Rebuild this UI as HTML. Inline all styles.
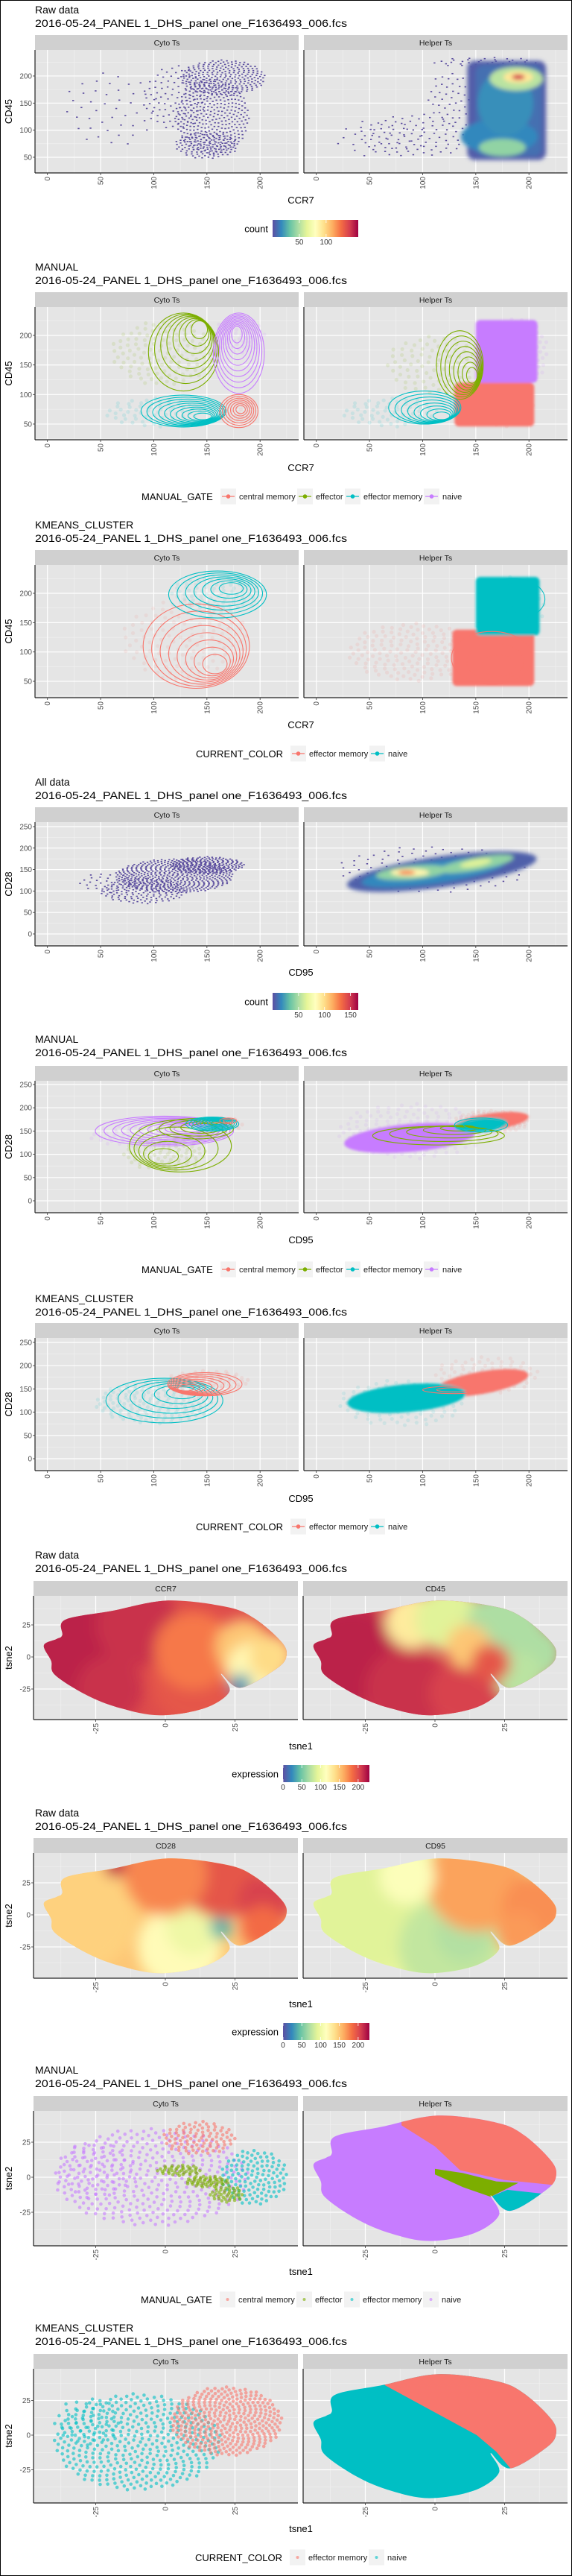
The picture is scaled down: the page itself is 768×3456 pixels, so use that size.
<!DOCTYPE html>
<html><head><meta charset="utf-8">
<style>
html,body{margin:0;padding:0;background:#fff;}
svg{display:block;font-family:"Liberation Sans",sans-serif;}
</style></head>
<body>
<svg id="chart" width="768" height="3456" viewBox="0 0 768 3456" xmlns="http://www.w3.org/2000/svg">
<defs>
<filter id="b1" x="-20%" y="-20%" width="140%" height="140%"><feGaussianBlur stdDeviation="1.5"/></filter>
<filter id="b3" x="-30%" y="-30%" width="160%" height="160%"><feGaussianBlur stdDeviation="3"/></filter>
<filter id="b8" x="-50%" y="-50%" width="200%" height="200%"><feGaussianBlur stdDeviation="9"/></filter>
</defs>
<rect x="0.5" y="0.5" width="767" height="3455" fill="#fff" stroke="#000" stroke-width="1"/>
</svg>
<script>
// ---------- DATA ----------
const COLS = {cm:'#F8766D', ef:'#7CAE00', em:'#00BFC4', nv:'#C77CFF'};
const flowTicksX = [0,50,100,150,200];
const ccr7TicksY = [50,100,150,200];
const cd28TicksY = [0,50,100,150,200,250];
const tsneTicks = [-25,0,25];
const countTicks1 = [50,100];
const countTicks4 = [50,100,150];
const exprTicks = [0,50,100,150,200];
const gateLabels = ['central memory','effector','effector memory','naive'];
const gateKeys = ['cm','ef','em','nv'];
const kmLabels = ['effector memory','naive'];
const kmKeys = ['cm','em'];

// Chart 1: sparse dot clusters [x,y,rx,ry,n]; dense rects [x0,y0,x1,y1,count]; dense blobs [x,y,rx,ry,rot,count]
const c1CytoDots = [[165,197,40,33,260],[155,125,35,70,330],[120,160,30,60,90],[150,72,30,25,120],[60,140,45,70,45]];
const c1HelperDots = [[95,90,55,40,90],[60,85,45,35,30],[125,160,20,50,40],[160,225,50,10,40]];
const c1HelperRects = [[142,45,216,228,4],[150,52,212,220,9]];
const c1HelperDense = [[172,88,36,32,0,16],[178,150,26,60,0,18],[175,68,22,16,0,42],[188,195,25,22,0,52],[190,198,14,11,0,92],[190,198,6,5,0,145]];

// Chart 2 MANUAL CCR7: faint points [x,y,rx,ry,n,key]; contours [key,cx,cy,rx,ry,icx,icy,levels]; fills [key,x0,y0,x1,y1]
const c2CytoFaint = [[110,170,50,55,120,'ef'],[100,70,45,25,60,'em'],[180,200,25,30,60,'nv'],[180,75,15,25,30,'cm']];
const c2CytoContours = [['ef',128,172,33,66,145,215,8],['nv',180,170,24,68,178,205,10],['em',128,72,40,27,148,62,10],['cm',180,72,18,28,182,75,7]];
const c2HelperFaint = [[110,150,45,50,80,'ef'],[70,70,45,25,60,'em'],[190,170,28,60,100,'nv'],[175,80,30,35,60,'cm']];
const c2HelperFills = [['nv',150,120,208,226],['cm',130,46,205,120]];
const c2HelperContours = [['ef',135,150,22,58,148,130,8],['em',102,78,34,28,120,62,8]];

// Chart 3 KMEANS CCR7
const c3CytoFaint = [[130,120,60,70,120,'cm'],[160,200,45,30,80,'em']];
const c3CytoContours = [['cm',140,110,50,72,160,75,8],['em',160,198,46,40,175,210,7]];
const c3HelperFaint = [[90,100,60,50,150,'cm'],[185,170,30,60,80,'em']];
const c3HelperFills = [['cm',128,42,205,138],['em',150,128,210,228]];
const c3HelperContours = [['cm',165,90,38,45,175,70,3],['em',185,190,30,35,185,195,3]];

// Chart 4 All data CD95 vs CD28
const c4CytoDots = [[120,135,55,40,500],[150,160,35,20,200],[90,100,40,30,150],[60,120,30,25,40]];
const c4HelperDots = [[110,150,90,55,120]];
const c4HelperRects = [];
const c4HelperDense = [[118,145,90,36,-8,5],[110,143,68,26,-8,16],[90,143,34,16,-5,42],[150,163,36,15,-10,42],[88,143,18,9,0,85],[85,143,8,5,0,125],[150,165,15,8,-10,62]];

// Chart 5 MANUAL CD95
const c5CytoFaint = [[110,100,40,35,80,'ef'],[90,140,50,25,60,'nv'],[160,165,25,15,40,'cm']];
const c5CytoContours = [['nv',110,150,65,32,135,155,10],['ef',125,118,48,56,105,90,5],['ef',140,155,35,22,150,160,4],['em',155,165,25,15,160,168,8],['cm',170,172,8,6,170,172,2]];
const c5HelperFaint = [[90,150,70,60,150,'nv'],[165,170,35,25,120,'cm']];
const c5HelperEllFills = [['nv',88,135,62,30,-5],['cm',165,170,35,18,-8],['em',155,163,25,15,-5]];
const c5HelperContours = [['ef',115,140,62,20,140,160,5],['em',155,163,25,15,158,165,3]];

// Chart 6 KMEANS CD95
const c6CytoFaint = [[100,120,55,45,150,'em'],[150,165,40,25,80,'cm']];
const c6CytoContours = [['em',110,125,55,48,130,145,6],['cm',148,160,35,25,128,150,9]];
const c6HelperFaint = [[80,120,60,50,100,'em'],[160,180,50,40,80,'cm']];
const c6HelperEllFills = [['cm',155,163,45,24,-10],['em',85,130,56,30,-5]];
const c6HelperContours = [['em',95,135,40,15,95,138,3],['cm',130,148,30,8,130,148,2]];

// tSNE cloud outline [tsne1,tsne2]
const tsneOutline = [[-43.6,9],[-41,-3],[-39.6,-14],[-28,-30],[-16,-40],[-2,-45.5],[14,-40],[23,-27],[20,-13],[27,-24],[40,-9],[43.5,1],[41.6,12],[32,30],[22,39],[1,44],[-19,36],[-36,29],[-37,17],[-39,14]];
// expression blobs [tsne1,tsne2,radius,expression]; base expression
const c7CCR7Base = 200;
const c7CCR7 = [[-30,5,20,218],[-10,25,15,212],[-20,-25,12,212],[10,-20,15,195],[10,5,14,180],[28,8,10,150],[32,-10,10,120],[27,-22,4,30],[38,0,8,140]];
const c7CD45Base = 205;
const c7CD45 = [[-30,0,18,218],[-10,-25,15,212],[10,-28,12,205],[-8,28,10,130],[5,30,12,90],[25,22,14,70],[36,3,10,70],[30,-15,9,75],[12,8,8,150],[20,-5,7,195]];
const c8CD28Base = 150;
const c8CD28 = [[-30,0,20,145],[5,-25,15,118],[10,-10,10,100],[20,-10,4,40],[20,30,15,195],[36,10,10,205],[35,-10,8,185],[0,32,15,175],[-18,38,4,215]];
const c8CD95Base = 95;
const c8CD95 = [[-25,0,20,90],[5,-25,18,78],[10,-15,10,72],[15,26,18,165],[36,5,12,172],[30,-15,8,168],[-10,30,10,112]];

// Chart 9 MANUAL tSNE
const c9CytoPts = [[-5,0,35,35,350,'nv'],[-25,5,15,20,50,'nv'],[12,28,13,12,90,'cm'],[32,0,12,20,120,'em'],[5,5,8,4,40,'ef'],[15,-3,8,4,50,'ef'],[22,-12,6,6,40,'ef']];
const c9HelperBase = 'nv';
const c9HelperPolys = [['cm',[[-12,50],[-12,37],[0,22],[9,5],[25,-2],[50,-7],[50,50]]],['ef',[[0,6],[10,3],[22,-3],[30,-4],[25,-9],[20,-14],[10,-7],[0,2]]],['em',[[20,-14],[26,-9],[40,-12],[45,-15],[38,-22],[25,-25]]]];
// Chart 10 KMEANS tSNE
const c10CytoPts = [[-10,-5,30,35,400,'em'],[-28,10,12,18,40,'em'],[22,10,20,25,350,'cm']];
const c10HelperBase = 'em';
const c10HelperPolys = [['cm',[[-20,50],[-18,36],[15,0],[22,-12],[28,-26],[50,-26],[50,50]]]];

// ---------- DRAWING ----------
const NS='http://www.w3.org/2000/svg';
const svg=document.getElementById('chart');
function el(tag, attrs, parent){const e=document.createElementNS(NS,tag);for(const k in attrs)e.setAttribute(k,attrs[k]);(parent||svg).appendChild(e);return e;}
function nm(e,name,inter){
  
  
  return e;}
function txt(x,y,s,attrs,parent){const t=el('text',Object.assign({x:x,y:y},attrs||{}),parent);t.textContent=s;return t;}

const SPECTRAL=['#5e4fa2','#3288bd','#66c2a5','#abdda4','#e6f598','#ffffbf','#fee08b','#fdae61','#f46d43','#d53e4f','#9e0142'];
function hex2(c){return [parseInt(c.slice(1,3),16),parseInt(c.slice(3,5),16),parseInt(c.slice(5,7),16)];}
function spec(t){t=Math.max(0,Math.min(1,t));const f=t*10,i=Math.min(9,Math.floor(f)),u=f-i;const a=hex2(SPECTRAL[i]),b=hex2(SPECTRAL[i+1]);return 'rgb('+a.map((v,k)=>Math.round(v+(b[k]-v)*u)).join(',')+')';}

let clipId=0;
function makeChart(cfg){
  const g=nm(el('g',{}),cfg.name);
  nm(txt(47,cfg.t1+5,cfg.title,{'font-size':14,fill:'#000'},g),'chart-title');
  nm(txt(47,cfg.t1+23,'2016-05-24_PANEL 1_DHS_panel one_F1636493_006.fcs',{'font-size':14,fill:'#000',textLength:419,lengthAdjust:'spacingAndGlyphs'},g),'chart-subtitle');
  const panels=[];
  for(let p=0;p<2;p++){
    const L=cfg.lefts[p],W=cfg.w,T=cfg.strip+20,B=cfg.bottom;
    const pg=nm(el('g',{},g),'panel-'+(p?'right':'left'));
    nm(el('rect',{x:L,y:cfg.strip,width:W,height:20,fill:'#d0d0d0'},pg),'facet-strip');
    nm(txt(L+W/2,cfg.strip+14,cfg.strips[p],{'font-size':10.5,fill:'#1a1a1a','text-anchor':'middle'},pg),'strip-label');
    nm(el('rect',{x:L,y:T,width:W,height:B-T,fill:'#e5e5e5'},pg),'panel-background');
    const xs=v=>L+cfg.x0+v*cfg.xk, ys=v=>cfg.yZero-v*cfg.yk;
    const xt=cfg.xticks, yt=cfg.yticks;
    const dx=xt[1]-xt[0], dy=yt[1]-yt[0];
    for(let v=xt[0]-dx/2;v<=xt[xt.length-1]+dx;v+=dx){const X=xs(v);if(X>L&&X<L+W)el('line',{x1:X,x2:X,y1:T,y2:B,stroke:'#f2f2f2','stroke-width':0.6},pg);}
    for(let v=yt[0]-dy/2;v<=yt[yt.length-1]+dy;v+=dy){const Y=ys(v);if(Y>T&&Y<B)el('line',{x1:L,x2:L+W,y1:Y,y2:Y,stroke:'#f2f2f2','stroke-width':0.6},pg);}
    xt.forEach(v=>{nm(el('line',{x1:xs(v),x2:xs(v),y1:T,y2:B,stroke:'#fff','stroke-width':1.2},pg),'x-gridline');});
    yt.forEach(v=>{nm(el('line',{x1:L,x2:L+W,y1:ys(v),y2:ys(v),stroke:'#fff','stroke-width':1.2},pg),'y-gridline');});
    const cid='clip'+(clipId++);
    const cp=el('clipPath',{id:cid},svg.querySelector('defs'));
    el('rect',{x:L,y:T,width:W,height:B-T},cp);
    const data=nm(el('g',{'clip-path':'url(#'+cid+')'},pg),'data-layer');
    panels.push({g:pg,data,xs,ys,L,T,W,B});
    nm(el('line',{x1:L,x2:L+W,y1:B,y2:B,stroke:'#222','stroke-width':1.2},pg),'x-axis-line');
    nm(el('line',{x1:L,x2:L,y1:T,y2:B,stroke:'#222','stroke-width':1.2},pg),'y-axis-line');
    xt.forEach(v=>{const X=xs(v);el('line',{x1:X,x2:X,y1:B,y2:B+3,stroke:'#333','stroke-width':0.8},pg);
      nm(txt(X+3.5,B+5,String(v),{'font-size':10,fill:'#4d4d4d','text-anchor':'end',transform:'rotate(-90 '+(X+3.5)+' '+(B+5)+')'},pg),'x-tick-label');});
    if(p===0) yt.forEach(v=>{const Y=ys(v);el('line',{x1:L-3,x2:L,y1:Y,y2:Y,stroke:'#333','stroke-width':0.8},pg);
      nm(txt(L-4,Y+3.5,String(v),{'font-size':10,fill:'#4d4d4d','text-anchor':'end'},pg),'y-tick-label');});
  }
  nm(txt(404,cfg.xlab+5,cfg.xtitle,{'font-size':13,fill:'#000','text-anchor':'middle'},g),'x-axis-title');
  const ym=(cfg.strip+20+cfg.bottom)/2;
  nm(txt(16,ym,cfg.ytitle,{'font-size':13,fill:'#000','text-anchor':'middle',transform:'rotate(-90 16 '+ym+')'},g),'y-axis-title');
  return {g,panels};
}

function sunflower(P,cl,fn){const [cx,cy,rx,ry,n]=cl;for(let i=0;i<n;i++){const r=Math.sqrt((i+0.5)/n),a=i*2.39996;fn(P.xs(cx+rx*r*Math.cos(a)),P.ys(cy+ry*r*Math.sin(a)));}}
function dots(P,clusters,color,w,h,name){const g=nm(el('g',{fill:color},P.data),name);clusters.forEach(cl=>sunflower(P,cl,(x,y)=>{el('rect',{x:x-w/2,y:y-h/2,width:w,height:h},g);}));}
function faint(P,clusters,r,op,name){const g=nm(el('g',{},P.data),name);clusters.forEach(cl=>{const c=COLS[cl[5]];sunflower(P,cl,(x,y)=>{el('circle',{cx:x,cy:y,r:r,fill:c,'fill-opacity':op},g);});});}
function dense(P,rects,blobs,maxc,name){const g=nm(el('g',{filter:'url(#b3)'},P.data),name);
  rects.forEach(r=>{const [x0,y0,x1,y1,c]=r;el('rect',{x:P.xs(x0),y:P.ys(y1),width:P.xs(x1)-P.xs(x0),height:P.ys(y0)-P.ys(y1),rx:10,fill:spec(c/maxc)},g);});
  blobs.forEach(b=>{const [x,y,rx,ry,rot,c]=b;const X=P.xs(x),Y=P.ys(y);el('ellipse',{cx:X,cy:Y,rx:rx*(P.xs(1)-P.xs(0)),ry:ry*(P.ys(0)-P.ys(1)),fill:spec(c/maxc),transform:'rotate('+rot+' '+X+' '+Y+')'},g);});}
function contours(P,list,name){const g=nm(el('g',{fill:'none','stroke-width':1.1},P.data),name);list.forEach(c=>{const [k,cx,cy,rx,ry,icx,icy,n]=c;for(let i=0;i<n;i++){const t=i/n;const X=P.xs(cx+(icx-cx)*t),Y=P.ys(cy+(icy-cy)*t);el('ellipse',{cx:X,cy:Y,rx:rx*(1-t*0.88)*(P.xs(1)-P.xs(0)),ry:ry*(1-t*0.88)*(P.ys(0)-P.ys(1)),stroke:COLS[k]},g);}});}
function rectFills(P,list,name){const g=nm(el('g',{filter:'url(#b1)'},P.data),name);list.forEach(f=>{const [k,x0,y0,x1,y1]=f;el('rect',{x:P.xs(x0),y:P.ys(y1),width:P.xs(x1)-P.xs(x0),height:P.ys(y0)-P.ys(y1),rx:6,fill:COLS[k]},g);});}
function ellFills(P,list,name){const g=nm(el('g',{filter:'url(#b1)'},P.data),name);list.forEach(f=>{const [k,x,y,rx,ry,rot]=f;const X=P.xs(x),Y=P.ys(y);el('ellipse',{cx:X,cy:Y,rx:rx*(P.xs(1)-P.xs(0)),ry:ry*(P.ys(0)-P.ys(1)),fill:COLS[k],transform:'rotate('+rot+' '+X+' '+Y+')'},g);});}
function polyStr(P,pts){return pts.map(p=>P.xs(p[0]).toFixed(1)+','+P.ys(p[1]).toFixed(1)).join(' ');}
function smoothPath(P,pts){const q=pts.map(p=>[P.xs(p[0]),P.ys(p[1])]);const n=q.length;let d='M'+q[0][0].toFixed(1)+','+q[0][1].toFixed(1);
  for(let i=0;i<n;i++){const p0=q[(i-1+n)%n],p1=q[i],p2=q[(i+1)%n],p3=q[(i+2)%n];
    const c1=[p1[0]+(p2[0]-p0[0])/6,p1[1]+(p2[1]-p0[1])/6],c2=[p2[0]-(p3[0]-p1[0])/6,p2[1]-(p3[1]-p1[1])/6];
    d+='C'+c1.map(v=>v.toFixed(1)).join(',')+' '+c2.map(v=>v.toFixed(1)).join(',')+' '+p2.map(v=>v.toFixed(1)).join(',');}
  return d+'Z';}
function tsneClip(P){const cid='clip'+(clipId++);const cp=el('clipPath',{id:cid},svg.querySelector('defs'));el('path',{d:smoothPath(P,tsneOutline)},cp);return cid;}
function exprPanel(P,base,blobs,name){const cid=tsneClip(P);const g=nm(el('g',{'clip-path':'url(#'+cid+')'},P.data),name);
  el('rect',{x:P.L,y:P.T,width:P.W,height:P.B-P.T,fill:spec(base/230)},g);
  const bg=el('g',{filter:'url(#b8)'},g);
  blobs.forEach(b=>{el('circle',{cx:P.xs(b[0]),cy:P.ys(b[1]),r:b[2]*(P.xs(1)-P.xs(0)),fill:spec(b[3]/230)},bg);});}
function catPanel(P,baseKey,polys,name){const cid=tsneClip(P);const g=nm(el('g',{'clip-path':'url(#'+cid+')'},P.data),name);
  el('rect',{x:P.L,y:P.T,width:P.W,height:P.B-P.T,fill:COLS[baseKey]},g);
  polys.forEach(pp=>{el('polygon',{points:polyStr(P,pp[1]),fill:COLS[pp[0]]},g);});}

function colorbar(yTop,title,ticks,maxv,x0,w,name){const g=nm(el('g',{},svg),name);const h=23;
  const gid='grad'+yTop;const lg=el('linearGradient',{id:gid,x1:0,x2:1,y1:0,y2:0},svg.querySelector('defs'));
  for(let i=0;i<=10;i++)el('stop',{offset:i/10,'stop-color':SPECTRAL[i]},lg);
  nm(txt(x0-6,yTop+h/2+5,title,{'font-size':13,fill:'#000','text-anchor':'end'},g),'legend-title');
  nm(el('rect',{x:x0,y:yTop,width:w,height:h,fill:'url(#'+gid+')'},g),'colorbar');
  ticks.forEach(t=>{const X=x0+w*t/maxv;el('line',{x1:X,x2:X,y1:yTop,y2:yTop+4,stroke:'#fff','stroke-width':0.8},g);el('line',{x1:X,x2:X,y1:yTop+h-4,y2:yTop+h,stroke:'#fff','stroke-width':0.8},g);
    nm(txt(X,yTop+h+10,String(t),{'font-size':10,fill:'#333','text-anchor':'middle'},g),'colorbar-tick');});}
function discreteLegend(cy,title,titleX,labels,keys,keyXs,withLine,name){const g=nm(el('g',{},svg),name);
  nm(txt(titleX,cy+5,title,{'font-size':13,fill:'#000'},g),'legend-title');
  labels.forEach((lab,i)=>{const kx=keyXs[i];const kg=nm(el('g',{},g),'legend-entry-'+keys[i]);
    el('rect',{x:kx,y:cy-10.5,width:21,height:21,fill:'#f2f2f2'},kg);
    if(withLine)el('line',{x1:kx+2,x2:kx+19,y1:cy,y2:cy,stroke:COLS[keys[i]],'stroke-width':1.2},kg);
    el('circle',{cx:kx+10.5,cy:cy,r:withLine?2.8:2,fill:COLS[keys[i]],'fill-opacity':withLine?1:0.6},kg);
    txt(kx+25,cy+4,lab,{'font-size':11,fill:'#222'},kg);});}

const FLOW={lefts:[47,408],w:354,x0:16.7,xk:1.4275,xticks:flowTicksX,strips:['Cyto Ts','Helper Ts']};
const TSNE={lefts:[45,407],w:355,x0:177,xk:3.74,xticks:tsneTicks};

let C=makeChart(Object.assign({},FLOW,{name:'chart-raw-ccr7-cd45',title:'Raw data',t1:13,strip:47,bottom:232,yZero:247.3,yk:0.7267,yticks:ccr7TicksY,xlab:268,xtitle:'CCR7',ytitle:'CD45'}));
dots(C.panels[0],c1CytoDots,'#5a4c9e',2.4,1.6,'hexbin-cyto');
dots(C.panels[1],c1HelperDots,'#5a4c9e',2.4,1.6,'hexbin-helper-sparse');
dense(C.panels[1],c1HelperRects,c1HelperDense,160,'hexbin-helper-dense');
colorbar(295,'count',countTicks1,160,366,115,'legend-count');

C=makeChart(Object.assign({},FLOW,{name:'chart-manual-ccr7-cd45',title:'MANUAL',t1:358,strip:392,bottom:590,yZero:608.6,yk:0.793,yticks:ccr7TicksY,xlab:627,xtitle:'CCR7',ytitle:'CD45'}));
faint(C.panels[0],c2CytoFaint,2.6,0.12,'points-cyto');
contours(C.panels[0],c2CytoContours,'density-contours-cyto');
faint(C.panels[1],c2HelperFaint,2.6,0.12,'points-helper');
rectFills(C.panels[1],c2HelperFills,'dense-points-helper');
contours(C.panels[1],c2HelperContours,'density-contours-helper');
discreteLegend(666,'MANUAL_GATE',190,gateLabels,gateKeys,[296,399,463,569],true,'legend-manual-gate');

C=makeChart(Object.assign({},FLOW,{name:'chart-kmeans-ccr7-cd45',title:'KMEANS_CLUSTER',t1:704,strip:738,bottom:936,yZero:953.4,yk:0.787,yticks:ccr7TicksY,xlab:972,xtitle:'CCR7',ytitle:'CD45'}));
faint(C.panels[0],c3CytoFaint,2.6,0.1,'points-cyto');
contours(C.panels[0],c3CytoContours,'density-contours-cyto');
faint(C.panels[1],c3HelperFaint,2.6,0.12,'points-helper');
rectFills(C.panels[1],c3HelperFills,'dense-points-helper');
contours(C.panels[1],c3HelperContours,'density-contours-helper');
discreteLegend(1011,'CURRENT_COLOR',263,kmLabels,kmKeys,[390,496],true,'legend-current-color');

C=makeChart(Object.assign({},FLOW,{name:'chart-all-cd95-cd28',title:'All data',t1:1049,strip:1083,bottom:1269,yZero:1253,yk:0.576,yticks:cd28TicksY,xlab:1304,xtitle:'CD95',ytitle:'CD28'}));
dots(C.panels[0],c4CytoDots,'#5a4c9e',2.4,1.6,'hexbin-cyto');
dots(C.panels[1],c4HelperDots,'#5a4c9e',2.4,1.6,'hexbin-helper-sparse');
dense(C.panels[1],c4HelperRects,c4HelperDense,160,'hexbin-helper-dense');
colorbar(1332,'count',countTicks4,165,366,115,'legend-count');

C=makeChart(Object.assign({},FLOW,{name:'chart-manual-cd95-cd28',title:'MANUAL',t1:1394,strip:1430,bottom:1627,yZero:1611,yk:0.624,yticks:cd28TicksY,xlab:1663,xtitle:'CD95',ytitle:'CD28'}));
faint(C.panels[0],c5CytoFaint,2.6,0.12,'points-cyto');
contours(C.panels[0],c5CytoContours,'density-contours-cyto');
faint(C.panels[1],c5HelperFaint,2.6,0.1,'points-helper');
ellFills(C.panels[1],c5HelperEllFills,'dense-points-helper');
contours(C.panels[1],c5HelperContours,'density-contours-helper');
discreteLegend(1703,'MANUAL_GATE',190,gateLabels,gateKeys,[296,399,463,569],true,'legend-manual-gate');

C=makeChart(Object.assign({},FLOW,{name:'chart-kmeans-cd95-cd28',title:'KMEANS_CLUSTER',t1:1742,strip:1775,bottom:1973,yZero:1957,yk:0.624,yticks:cd28TicksY,xlab:2010,xtitle:'CD95',ytitle:'CD28'}));
faint(C.panels[0],c6CytoFaint,2.6,0.12,'points-cyto');
contours(C.panels[0],c6CytoContours,'density-contours-cyto');
faint(C.panels[1],c6HelperFaint,2.6,0.1,'points-helper');
ellFills(C.panels[1],c6HelperEllFills,'dense-points-helper');
contours(C.panels[1],c6HelperContours,'density-contours-helper');
discreteLegend(2048,'CURRENT_COLOR',263,kmLabels,kmKeys,[390,496],true,'legend-current-color');

C=makeChart(Object.assign({},TSNE,{name:'chart-tsne-ccr7-cd45',title:'Raw data',t1:2086,strip:2121,bottom:2307,yZero:2223,yk:1.72,yticks:tsneTicks,xlab:2342,xtitle:'tsne1',ytitle:'tsne2',strips:['CCR7','CD45']}));
exprPanel(C.panels[0],c7CCR7Base,c7CCR7,'tsne-ccr7-expression');
exprPanel(C.panels[1],c7CD45Base,c7CD45,'tsne-cd45-expression');
colorbar(2368,'expression',exprTicks,230,380,116,'legend-expression');

C=makeChart(Object.assign({},TSNE,{name:'chart-tsne-cd28-cd95',title:'Raw data',t1:2432,strip:2466,bottom:2654,yZero:2569,yk:1.72,yticks:tsneTicks,xlab:2688,xtitle:'tsne1',ytitle:'tsne2',strips:['CD28','CD95']}));
exprPanel(C.panels[0],c8CD28Base,c8CD28,'tsne-cd28-expression');
exprPanel(C.panels[1],c8CD95Base,c8CD95,'tsne-cd95-expression');
colorbar(2714,'expression',exprTicks,230,380,116,'legend-expression');

C=makeChart(Object.assign({},TSNE,{name:'chart-tsne-manual',title:'MANUAL',t1:2777,strip:2812,bottom:3013,yZero:2921,yk:1.88,yticks:tsneTicks,xlab:3047,xtitle:'tsne1',ytitle:'tsne2',strips:['Cyto Ts','Helper Ts']}));
faint(C.panels[0],c9CytoPts,2.3,0.6,'tsne-points-cyto');
catPanel(C.panels[1],c9HelperBase,c9HelperPolys,'tsne-points-helper');
discreteLegend(3085,'MANUAL_GATE',189,gateLabels,gateKeys,[295,398,462,568],false,'legend-manual-gate');

C=makeChart(Object.assign({},TSNE,{name:'chart-tsne-kmeans',title:'KMEANS_CLUSTER',t1:3123,strip:3158,bottom:3358,yZero:3267,yk:1.86,yticks:tsneTicks,xlab:3392,xtitle:'tsne1',ytitle:'tsne2',strips:['Cyto Ts','Helper Ts']}));
faint(C.panels[0],c10CytoPts,2.3,0.6,'tsne-points-cyto');
catPanel(C.panels[1],c10HelperBase,c10HelperPolys,'tsne-points-helper');
discreteLegend(3431,'CURRENT_COLOR',262,kmLabels,kmKeys,[389,495],false,'legend-current-color');
</script>
</body></html>
